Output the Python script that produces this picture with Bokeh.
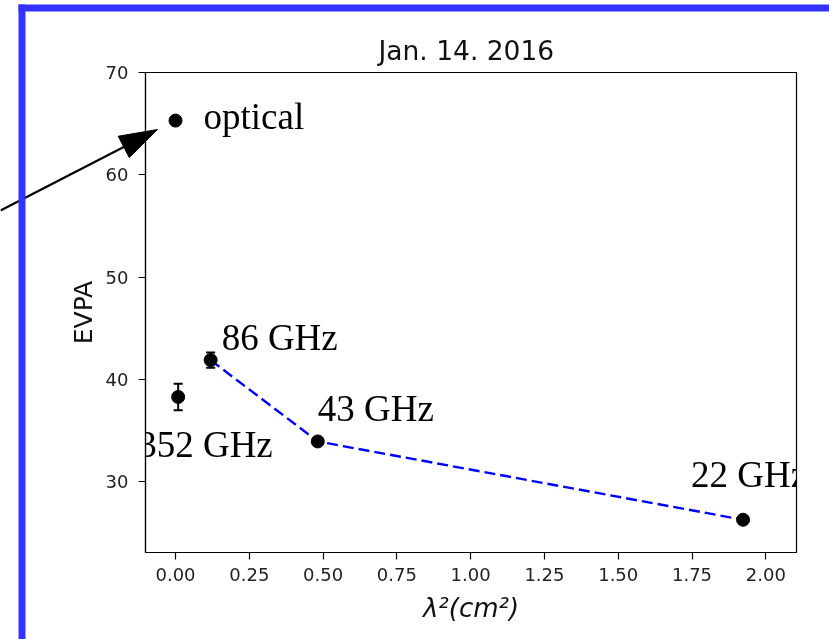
import math
from bokeh.plotting import figure
from bokeh.models import (ColumnDataSource, FixedTicker, Whisker, TeeHead,
                          LabelSet, BoxAnnotation, Range1d, InlineStyleSheet)
from bokeh.core.properties import value
from bokeh.embed import file_html
from bokeh.resources import INLINE

# ---- data ----
bands = ["optical", "352 GHz", "86 GHz", "43 GHz", "22 GHz"]
lambda2 = [0.0, 0.009, 0.119, 0.482, 1.923]          # cm^2
evpa = [65.3, 38.3, 41.9, 33.95, 26.3]               # deg
evpa_err = [0.0, 1.3, 0.75, 0.3, 0.3]
line_bands = ["86 GHz", "43 GHz", "22 GHz"]          # joined by the dashed line

x_ticks = [0.0, 0.25, 0.5, 0.75, 1.0, 1.25, 1.5, 1.75, 2.0]
x_tick_labels = ["0.00", "0.25", "0.50", "0.75", "1.00", "1.25", "1.50", "1.75", "2.00"]
y_ticks = [30, 40, 50, 60, 70]

title_text = "Jan. 14. 2016"
x_label = "λ²(cm²)"
y_label = "EVPA"

# label pixel offsets (right, up) from each point
label_dx = [28, -40, 11, 0, -52]
label_dy = [-8, -60, 10, 20, 33]

# arrow (data coords) pointing at the optical point
arrow_tail = (-0.593, 56.52)
arrow_tip = (-0.061, 64.43)

# ---- geometry ----
W, H = 829, 639
BL, BT, BR, BB = 145, 72, 33, 87          # borders around the plot frame
XMIN, XMAX = -0.1017, 2.104
YMIN, YMAX = 23.1, 70.0
FW, FH = W - BL - BR, H - BT - BB
kx = FW / (XMAX - XMIN)
ky = FH / (YMAX - YMIN)

fixed_css = InlineStyleSheet(css=":host { position: fixed !important; left: 0px !important; top: 0px !important; }")

# ---- background canvas: frame covers whole page (arrow + blue frame) ----
bg = figure(width=W, height=H, output_backend="svg", toolbar_location=None,
            x_range=Range1d(XMIN - BL / kx, XMAX + BR / kx),
            y_range=Range1d(YMIN - BB / ky, YMAX + BT / ky),
            x_axis_location=None, y_axis_location=None,
            min_border_left=0, min_border_right=0, min_border_top=0, min_border_bottom=0)
bg.outline_line_color = None
bg.grid.visible = False
bg.background_fill_color = "white"
bg.border_fill_color = "white"
bg.stylesheets = [fixed_css]

# arrow: shaft + filled triangular head (head size in pixels)
head_len, head_w = 38, 24
dxp = (arrow_tip[0] - arrow_tail[0]) * kx
dyp = (arrow_tip[1] - arrow_tail[1]) * ky
L = math.hypot(dxp, dyp)
ux, uy = dxp / L, dyp / L
vx, vy = -uy, ux
bx, by = arrow_tip[0] - head_len * ux / kx, arrow_tip[1] - head_len * uy / ky
head_xs = [arrow_tip[0], bx + head_w / 2 * vx / kx, bx - head_w / 2 * vx / kx]
head_ys = [arrow_tip[1], by + head_w / 2 * vy / ky, by - head_w / 2 * vy / ky]
bg.line([arrow_tail[0], bx], [arrow_tail[1], by], line_color="black", line_width=2.2)
bg.patch(head_xs, head_ys, fill_color="black", line_color="black", line_width=1)

stripe_col = "#3333ff"
bg.add_layout(BoxAnnotation(left=18, right=W + 20, bottom=H - 11, top=H - 4,
                            left_units="screen", right_units="screen",
                            top_units="screen", bottom_units="screen",
                            fill_color=stripe_col, fill_alpha=1.0, line_alpha=0,
                            level="overlay"))
bg.add_layout(BoxAnnotation(left=18, right=25, bottom=-20, top=H - 4,
                            left_units="screen", right_units="screen",
                            top_units="screen", bottom_units="screen",
                            fill_color=stripe_col, fill_alpha=1.0, line_alpha=0,
                            level="overlay"))

# ---- main plot ----
p = figure(width=W, height=H, output_backend="svg", toolbar_location=None,
           x_range=Range1d(XMIN, XMAX), y_range=Range1d(YMIN, YMAX),
           min_border_left=BL, min_border_top=BT, min_border_right=BR,
           min_border_bottom=BB, title=title_text)
p.stylesheets = [fixed_css]
p.background_fill_alpha = 0
p.border_fill_alpha = 0
p.outline_line_color = "black"
p.outline_line_width = 1.2
p.grid.visible = False

p.title.align = "left"
p.title.offset = 233
p.title.standoff = 13
p.title.text_font = "DejaVu Sans"
p.title.text_font_style = "normal"
p.title.text_font_size = "26.5px"
p.title.text_color = "#111111"

for ax in (p.xaxis[0], p.yaxis[0]):
    ax.axis_line_color = "black"
    ax.axis_line_width = 1.2
    ax.major_tick_line_color = "black"
    ax.major_tick_line_width = 1.2
    ax.major_tick_out = 7
    ax.major_tick_in = 0
    ax.minor_tick_line_color = None
    ax.major_label_text_font = "DejaVu Sans"
    ax.major_label_text_font_size = "18px"
    ax.major_label_text_color = "#222222"
    ax.axis_label_text_font = "DejaVu Sans"
    ax.axis_label_text_font_style = "normal"
    ax.axis_label_text_color = "#111111"

p.xaxis.ticker = FixedTicker(ticks=x_ticks)
p.xaxis.major_label_overrides = {t: l for t, l in zip(x_ticks, x_tick_labels)}
p.yaxis.ticker = FixedTicker(ticks=y_ticks)
p.xaxis.major_label_standoff = 8
p.yaxis.major_label_standoff = 10
p.xaxis.axis_label = x_label
p.xaxis.axis_label_text_font_style = "italic"
p.xaxis.axis_label_text_font_size = "26px"
p.yaxis.axis_label = y_label
p.yaxis.axis_label_text_font_size = "25px"
p.xaxis.axis_label_standoff = 9
p.yaxis.axis_label_standoff = 5

src = ColumnDataSource(dict(
    x=lambda2, y=evpa, band=bands,
    upper=[v + e for v, e in zip(evpa, evpa_err)],
    lower=[v - e for v, e in zip(evpa, evpa_err)],
    dx=label_dx, dy=label_dy,
))
line_idx = [bands.index(b) for b in line_bands]
line_src = ColumnDataSource(dict(x=[lambda2[i] for i in line_idx],
                                 y=[evpa[i] for i in line_idx]))

p.line("x", "y", source=line_src, line_color="#0000ff", line_width=2.4,
       line_dash="11 5")

wh = Whisker(source=src, base="x", upper="upper", lower="lower", dimension="height",
             line_color="black", line_width=2,
             upper_head=TeeHead(size=9, line_color="black", line_width=2),
             lower_head=TeeHead(size=9, line_color="black", line_width=2))
p.add_layout(wh)

p.scatter("x", "y", source=src, size=13, fill_color="black", line_color="black")

labels = LabelSet(x="x", y="y", text="band", source=src, x_offset="dx", y_offset="dy",
                  text_font=value("Liberation Serif"), text_font_size="37px",
                  text_color="black", text_baseline="alphabetic", text_align="left")
p.add_layout(labels)

# two independent roots, stacked with CSS (background first, plot on top)
open("out.html", "w").write(file_html([bg, p], INLINE))
